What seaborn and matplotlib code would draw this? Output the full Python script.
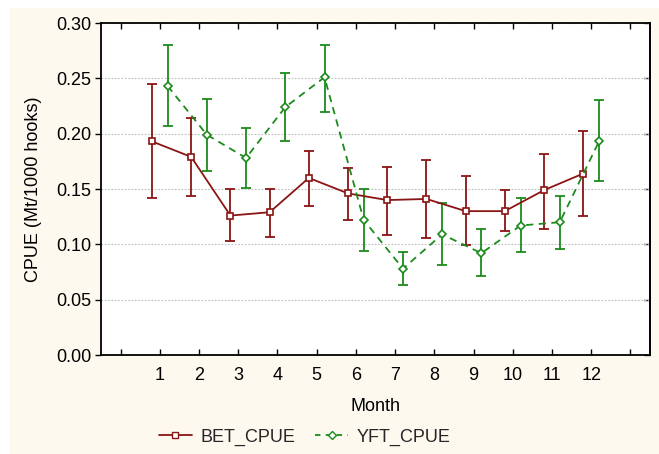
import numpy as np
import pandas as pd
import matplotlib
matplotlib.use("Agg")
import matplotlib.pyplot as plt
import seaborn as sns
from matplotlib.lines import Line2D
from matplotlib.patches import Rectangle

months = list(range(1, 13))
bet_mean = [0.193, 0.179, 0.126, 0.129, 0.160, 0.146, 0.140, 0.141, 0.130, 0.130, 0.149, 0.164]
bet_upper = [0.245, 0.214, 0.150, 0.150, 0.184, 0.169, 0.170, 0.176, 0.162, 0.149, 0.182, 0.202]
bet_lower = [0.142, 0.144, 0.103, 0.107, 0.135, 0.122, 0.108, 0.106, 0.099, 0.112, 0.114, 0.126]
yft_mean = [0.243, 0.199, 0.178, 0.224, 0.251, 0.122, 0.078, 0.109, 0.092, 0.117, 0.120, 0.193]
yft_upper = [0.280, 0.231, 0.205, 0.255, 0.280, 0.150, 0.093, 0.137, 0.114, 0.142, 0.144, 0.230]
yft_lower = [0.207, 0.166, 0.151, 0.193, 0.220, 0.094, 0.063, 0.081, 0.071, 0.093, 0.096, 0.157]
series_names = ["BET_CPUE", "YFT_CPUE"]
y_ticks = [0.00, 0.05, 0.10, 0.15, 0.20, 0.25, 0.30]

sns.set_theme(style="white")
plt.rcParams['font.family'] = ['Liberation Sans', 'DejaVu Sans']

BG = "#fdf9ef"
RED = "#8b1414"
GREEN = "#1b8b1b"
FS = 13

fig = plt.figure(figsize=(6.59, 4.54), dpi=100)
fig.patch.set_facecolor("white")
fig.patches.append(Rectangle((10 / 659, 0), 1 - 10 / 659, 1 - 8 / 454,
                             transform=fig.transFigure, facecolor=BG,
                             edgecolor="none", zorder=-10))

ax = fig.add_axes([101 / 659, 1 - 355 / 454, (650 - 101) / 659, (355 - 23) / 454])
ax.set_facecolor("white")

configs = [
    (series_names[0], bet_mean, bet_lower, bet_upper, -0.2, RED, "s", "-", 4.8),
    (series_names[1], yft_mean, yft_lower, yft_upper, 0.2, GREEN, "D", (0, (4, 3)), 3.8),
]
for name, mean, lo, hi, off, col, mk, ls, ms in configs:
    df = pd.DataFrame({"month": months, "mean": mean, "lower": lo, "upper": hi})
    df["x"] = df["month"] + off
    ax.errorbar(df["x"], df["mean"],
                yerr=[df["mean"] - df["lower"], df["upper"] - df["mean"]],
                fmt="none", ecolor=col, elinewidth=1.3, capsize=3.5,
                capthick=1.3, zorder=2)
    sns.lineplot(data=df, x="x", y="mean", ax=ax, color=col, linewidth=1.3,
                 linestyle=ls, marker=mk, markersize=ms,
                 markerfacecolor="white", markeredgecolor=col,
                 markeredgewidth=1.2, zorder=3, legend=False)

ax.set_xlim(-0.5, 13.5)
ax.set_ylim(0, 0.30)
ax.set_xticks(range(0, 14))
ax.set_xticklabels([""] + [str(m) for m in months] + [""])
ax.set_yticks(y_ticks)
ax.set_yticklabels([f"{v:.2f}" for v in y_ticks])
ax.yaxis.grid(True, linestyle=(0, (1.5, 1.5)), color="#bdbdbd", linewidth=0.8)
ax.xaxis.grid(False)
for s in ax.spines.values():
    s.set_color("black")
    s.set_linewidth(1.3)
ax.tick_params(axis="x", which="both", direction="in", length=4, width=1,
               top=True, bottom=True, labelsize=FS, colors="black", pad=9)
ax.tick_params(axis="y", which="both", direction="out", length=4, width=1,
               left=True, right=False, labelsize=FS, colors="black", pad=3)
ax2 = ax.secondary_yaxis("right")
ax2.set_yticks(y_ticks)
ax2.tick_params(direction="in", length=4, width=1, labelright=False)
ax2.spines["right"].set_linewidth(1.3)

ax.set_xlabel("Month", fontsize=FS, color="black", labelpad=10)
ax.set_ylabel("CPUE (Mt/1000 hooks)", fontsize=FS, color="black", labelpad=10)

handles = [
    Line2D([], [], color=RED, linestyle="-", linewidth=1.3, marker="s",
           markersize=4.8, markerfacecolor="white", markeredgecolor=RED),
    Line2D([], [], color=GREEN, linestyle=(0, (3, 3)), linewidth=1.3, marker="D",
           markersize=3.8, markerfacecolor="white", markeredgecolor=GREEN),
]
fig.legend(handles, series_names, loc="center", ncol=2,
           bbox_to_anchor=(305 / 659, 1 - 437 / 454), frameon=False,
           fontsize=FS, handlelength=1.8, columnspacing=1.1, handletextpad=0.5)

fig.savefig("out.png", dpi=100, facecolor=fig.get_facecolor())
